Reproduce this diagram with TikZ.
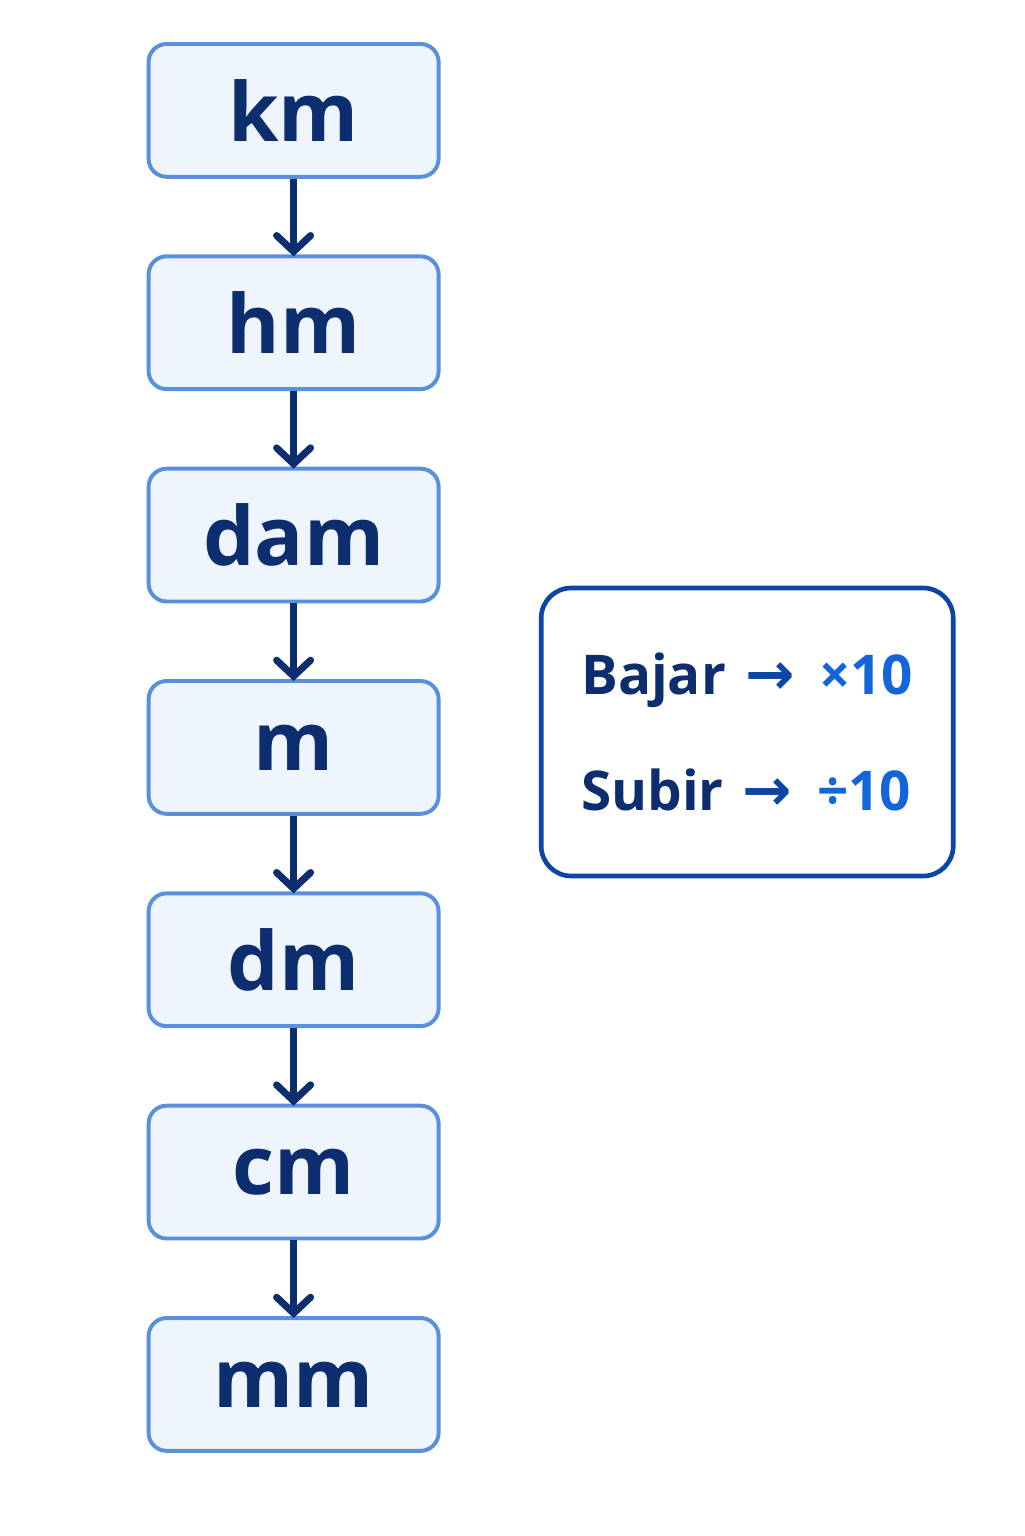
\documentclass[tikz,border=0pt]{standalone}
\usepackage{fontspec}
\setmainfont{Open Sans}
\newfontfamily\arrowfont{DejaVu Sans}
\usepackage{tikz}
\usetikzlibrary{arrows.meta}
\usetikzlibrary{positioning}
\definecolor{unitfill}{HTML}{EFF5FD}
\definecolor{unitdraw}{HTML}{5A90DB}
\definecolor{unitnavy}{HTML}{0C2E6E}
\definecolor{legdraw}{HTML}{0B46A6}
\definecolor{legblue}{HTML}{1565DA}
\newcommand{\legarrow}{\hspace{0.35em}{\color{legdraw}\arrowfont\bfseries\fontsize{42}{82}\selectfont→}\hspace{0.45em}}
\tikzset{
  unit/.style = {rectangle, rounded corners=0.45cm, draw=unitdraw, fill=unitfill,
    line width=2.8pt, minimum width=7.25cm, minimum height=3.32cm,
    text=unitnavy, font=\fontsize{58}{66}\selectfont\bfseries},% caja de unidad
  down/.style = {-{Straight Barb[length=0.4cm,width=0.85cm,line cap=round]},
    draw=unitnavy, line width=5pt},% flecha hacia abajo
  legend/.style = {rectangle, rounded corners=0.75cm, draw=legdraw, line width=3.3pt,
    minimum width=10.3cm, minimum height=7.2cm, align=left,
    text=unitnavy, font=\fontsize{39}{82}\selectfont\bfseries}% cuadro de reglas
}
\begin{document}
\begin{tikzpicture}[node distance=1.89cm]
\useasboundingbox[fill=white] (0,0) rectangle (25.6,-38.4);
\node [unit] (km) at (7.34,-2.76) {km};
\node [unit, below=of km] (hm) {hm};
\node [unit, below=of hm] (dam) {dam};
\node [unit, below=of dam] (m) {m};
\node [unit, below=of m] (dm) {dm};
\node [unit, below=of dm] (cm) {cm};
\node [unit, below=of cm] (mm) {mm};

\foreach \a/\b in {km/hm, hm/dam, dam/m, m/dm, dm/cm, cm/mm}
  \draw [down] (\a.south) -- ([yshift=-0.05cm]\b.north);

\node [legend] (rules) at (18.68,-18.3)
  {Bajar\legarrow{\color{legblue}×10}\\
   Subir\legarrow{\color{legblue}÷10}};
\end{tikzpicture}
\end{document}
